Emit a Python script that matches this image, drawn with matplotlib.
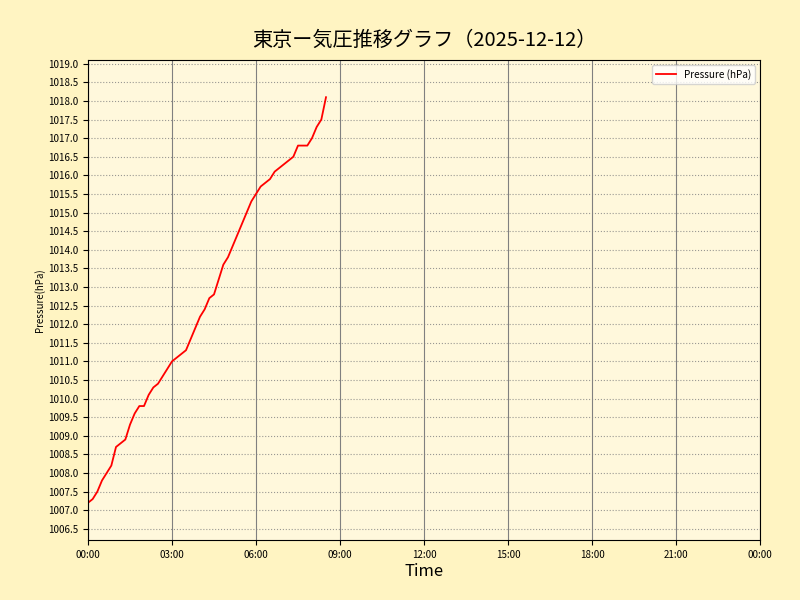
import matplotlib
matplotlib.use("Agg")
import matplotlib.pyplot as plt
import matplotlib.dates as mdates
import pandas as pd

plt.rcParams['font.family'] = ['Noto Sans CJK JP', 'DejaVu Sans']

# 10-minute readings from 00:00 to 08:30
pressure = [
    1007.2, 1007.3, 1007.5, 1007.8, 1008.0, 1008.2, 1008.7, 1008.8, 1008.9, 1009.3,
    1009.6, 1009.8, 1009.8, 1010.1, 1010.3, 1010.4, 1010.6, 1010.8, 1011.0, 1011.1,
    1011.2, 1011.3, 1011.6, 1011.9, 1012.2, 1012.4, 1012.7, 1012.8, 1013.2, 1013.6,
    1013.8, 1014.1, 1014.4, 1014.7, 1015.0, 1015.3, 1015.5, 1015.7, 1015.8, 1015.9,
    1016.1, 1016.2, 1016.3, 1016.4, 1016.5, 1016.8, 1016.8, 1016.8, 1017.0, 1017.3,
    1017.5, 1018.1,
]
times = pd.date_range("2025-12-12 00:00", periods=len(pressure), freq="10min")
day_start = pd.Timestamp("2025-12-12 00:00")
day_end = pd.Timestamp("2025-12-13 00:00")

fig = plt.figure(figsize=(8, 6), dpi=100, facecolor="#FFF4C2")
ax = fig.add_axes([0.11, 0.10, 0.84, 0.80])
ax.set_facecolor("#FFF8DC")

ax.plot(times, pressure, color="red", linewidth=1.3, label="Pressure (hPa)")

ax.set_xlim(day_start, day_end)
ax.set_ylim(min(pressure) - 1, max(pressure) + 1)
ax.xaxis.set_major_locator(mdates.HourLocator(byhour=range(0, 24, 3)))
ax.xaxis.set_major_formatter(mdates.DateFormatter("%H:%M"))
ax.yaxis.set_major_locator(matplotlib.ticker.MultipleLocator(0.5))
ax.yaxis.set_major_formatter(matplotlib.ticker.FormatStrFormatter("%.1f"))
ax.tick_params(labelsize=7)

ax.grid(axis="x", color="gray", linestyle="-", linewidth=0.8)
ax.grid(axis="y", color="gray", linestyle=":", linewidth=0.8, alpha=0.8)

ax.set_title("東京ー気圧推移グラフ（2025-12-12）", fontsize=14.5, pad=10)
ax.set_xlabel("Time", fontsize=12, labelpad=2)
ax.set_ylabel("Pressure(hPa)", fontsize=7, labelpad=2)
ax.legend(loc="upper right", fontsize=7.2)

fig.savefig("out.png", facecolor=fig.get_facecolor())
